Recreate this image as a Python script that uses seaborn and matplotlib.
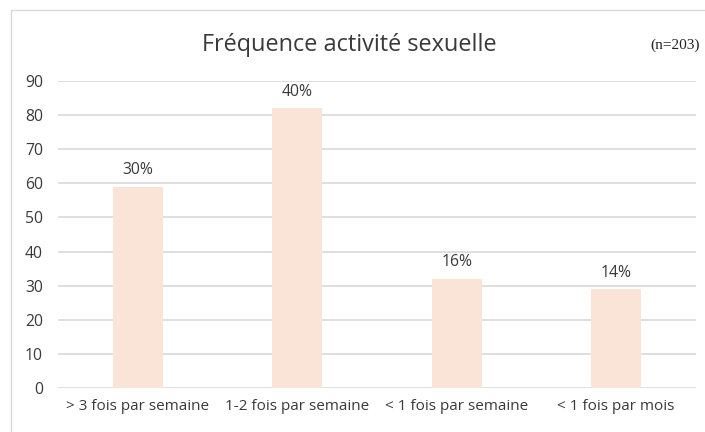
import matplotlib
matplotlib.use("Agg")
import pandas as pd
import seaborn as sns
import matplotlib.pyplot as plt
from matplotlib.patches import Rectangle

categories = ["> 3 fois par semaine", "1-2 fois par semaine", "< 1 fois par semaine", "< 1 fois par mois"]
counts = [59, 82, 32, 29]
pct_labels = ["30%", "40%", "16%", "14%"]

TEXT = "#3A3A3A"
GRID = "#D9D9D9"
BAR = "#FAE4D7"

sns.set_style("white")
plt.rcParams["font.family"] = ["Open Sans", "DejaVu Sans"]

fig = plt.figure(figsize=(7.05, 4.32), dpi=100)
ax = fig.add_axes([0.0827, 0.1019, 0.904, 0.7106])

df = pd.DataFrame({"cat": categories, "n": counts})
sns.barplot(data=df, x="cat", y="n", color=BAR, saturation=1, width=0.314,
            linewidth=0, edgecolor=BAR, ax=ax)

ax.bar_label(ax.containers[0], labels=pct_labels, padding=6, fontsize=11.3, color=TEXT)

ax.set_ylim(0, 90)
ax.set_yticks(range(0, 91, 10))
ax.yaxis.grid(True, color=GRID, linewidth=1.2)
ax.set_axisbelow(True)
for s in ax.spines.values():
    s.set_visible(False)
ax.tick_params(axis="y", length=0, pad=11, labelsize=11.3, labelcolor=TEXT)
ax.tick_params(axis="x", length=0, pad=8, labelsize=11, labelcolor=TEXT)
ax.set_xlabel("")
ax.set_ylabel("")

fig.text(0.495, 0.895, "Fréquence activité sexuelle", ha="center", va="center",
         fontsize=16.9, color=TEXT)
fig.text(0.923, 0.895, "(n=203)", ha="left", va="center", fontsize=11,
         family=["Liberation Serif", "DejaVu Serif"], color="#222222")

# light frame around the chart area
fig.patches.append(Rectangle((11 / 705, -0.05), 1.0, 1 - 10 / 432 + 0.05,
                             transform=fig.transFigure, fill=False,
                             edgecolor="#D9D9D9", linewidth=1))

fig.savefig("out.png", dpi=100)
